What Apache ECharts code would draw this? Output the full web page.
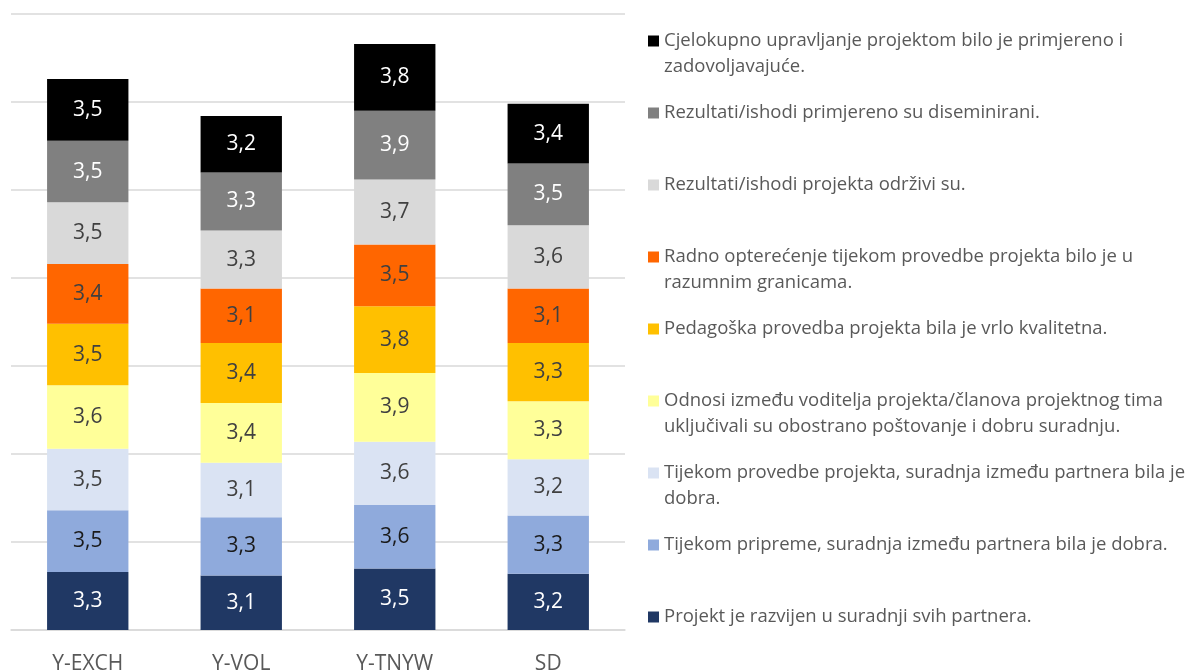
<!DOCTYPE html>
<html>
<head>
<meta charset="utf-8">
<script src="https://cdn.jsdelivr.net/npm/echarts@6/dist/echarts.min.js"></script>
<style>
	html, body { margin: 0; padding: 0; background: #fff; }
	#chart { width: 1193px; height: 670px; }
</style>
</head>
<body>
<div id="chart"></div>
<script>
var categories = ['Y-EXCH', 'Y-VOL', 'Y-TNYW', 'SD'];

// od dna stupca prema vrhu
var names = [
	'Projekt je razvijen u suradnji svih partnera.',
	'Tijekom pripreme, suradnja između partnera bila je dobra.',
	'Tijekom provedbe projekta, suradnja između partnera bila je dobra.',
	'Odnosi između voditelja projekta/članova projektnog tima uključivali su obostrano poštovanje i dobru suradnju.',
	'Pedagoška provedba projekta bila je vrlo kvalitetna.',
	'Radno opterećenje tijekom provedbe projekta bilo je u razumnim granicama.',
	'Rezultati/ishodi projekta održivi su.',
	'Rezultati/ishodi primjereno su diseminirani.',
	'Cjelokupno upravljanje projektom bilo je primjereno i zadovoljavajuće.'
];
var legendLabels = [
	'Projekt je razvijen u suradnji svih partnera.',
	'Tijekom pripreme, suradnja između partnera bila je dobra.',
	'Tijekom provedbe projekta, suradnja između partnera bila je\ndobra.',
	'Odnosi između voditelja projekta/članova projektnog tima\nuključivali su obostrano poštovanje i dobru suradnju.',
	'Pedagoška provedba projekta bila je vrlo kvalitetna.',
	'Radno opterećenje tijekom provedbe projekta bilo je u\nrazumnim granicama.',
	'Rezultati/ishodi projekta održivi su.',
	'Rezultati/ishodi primjereno su diseminirani.',
	'Cjelokupno upravljanje projektom bilo je primjereno i\nzadovoljavajuće.'
];

var projekt = [3.3, 3.1, 3.5, 3.2];
var priprema = [3.5, 3.3, 3.6, 3.3];
var provedba = [3.5, 3.1, 3.6, 3.2];
var odnosi = [3.6, 3.4, 3.9, 3.3];
var pedagoska = [3.5, 3.4, 3.8, 3.3];
var radno = [3.4, 3.1, 3.5, 3.1];
var odrzivi = [3.5, 3.3, 3.7, 3.6];
var diseminirani = [3.5, 3.3, 3.9, 3.5];
var cjelokupno = [3.5, 3.2, 3.8, 3.4];

var values = [projekt, priprema, provedba, odnosi, pedagoska, radno, odrzivi, diseminirani, cjelokupno];
var colors = ['#203864', '#8FAADC', '#DAE3F3', '#FFFF99', '#FFC000', '#FF6600', '#D9D9D9', '#808080', '#000000'];
var labelColors = ['#ffffff', '#1a1a1a', '#404040', '#404040', '#404040', '#404040', '#404040', '#ffffff', '#ffffff'];

var chart = echarts.init(document.getElementById('chart'));

var series = [];
for (var i = 0; i < names.length; i++) {
	series.push({
		name: names[i],
		type: 'bar',
		stack: 'ukupno',
		barWidth: '53%',
		itemStyle: {
			color: colors[i]
		},
		label: {
			show: true,
			position: 'inside',
			fontFamily: 'Open Sans',
			fontSize: 21,
			color: labelColors[i],
			formatter: function(p) {
				return p.value.toFixed(1).replace('.', ',');
			}
		},
		data: values[i]
	});
}

// legenda ide od vrha prema dnu
var legendData = [];
for (var j = names.length - 1; j >= 0; j--) {
	legendData.push(names[j]);
}

var option = {
	animation: false,
	color: colors,
	grid: {
		left: 11,
		right: 568,
		top: 14,
		bottom: 40,
		outerBoundsMode: 'none'
	},
	legend: {
		orient: 'vertical',
		left: 648,
		top: 2,
		padding: 0,
		itemGap: -6,
		itemWidth: 11,
		itemHeight: 11,
		icon: 'rect',
		selectedMode: false,
		textStyle: {
			fontFamily: 'Open Sans',
			fontSize: 18.5,
			lineHeight: 26,
			color: '#595959'
		},
		// svaka stavka ima tri retka da prvi red stoji uz kvadratic
		formatter: function(name) {
			var txt = legendLabels[names.indexOf(name)];
			if (txt.indexOf('\n') >= 0) {
				return '\n' + txt;
			}
			return '\n' + txt + '\n';
		},
		data: legendData
	},
	xAxis: {
		type: 'category',
		data: categories,
		axisTick: { show: false },
		axisLine: {
			lineStyle: { color: '#d9d9d9', width: 1.5 }
		},
		axisLabel: {
			margin: 24,
			fontFamily: 'Open Sans',
			fontSize: 21,
			color: '#595959'
		}
	},
	yAxis: {
		type: 'value',
		min: 0,
		max: 35,
		interval: 5,
		axisLabel: { show: false },
		axisLine: { show: false },
		axisTick: { show: false },
		splitLine: {
			lineStyle: { color: '#d9d9d9', width: 1.5 }
		}
	},
	series: series
};

chart.setOption(option);
</script>
</body>
</html>
